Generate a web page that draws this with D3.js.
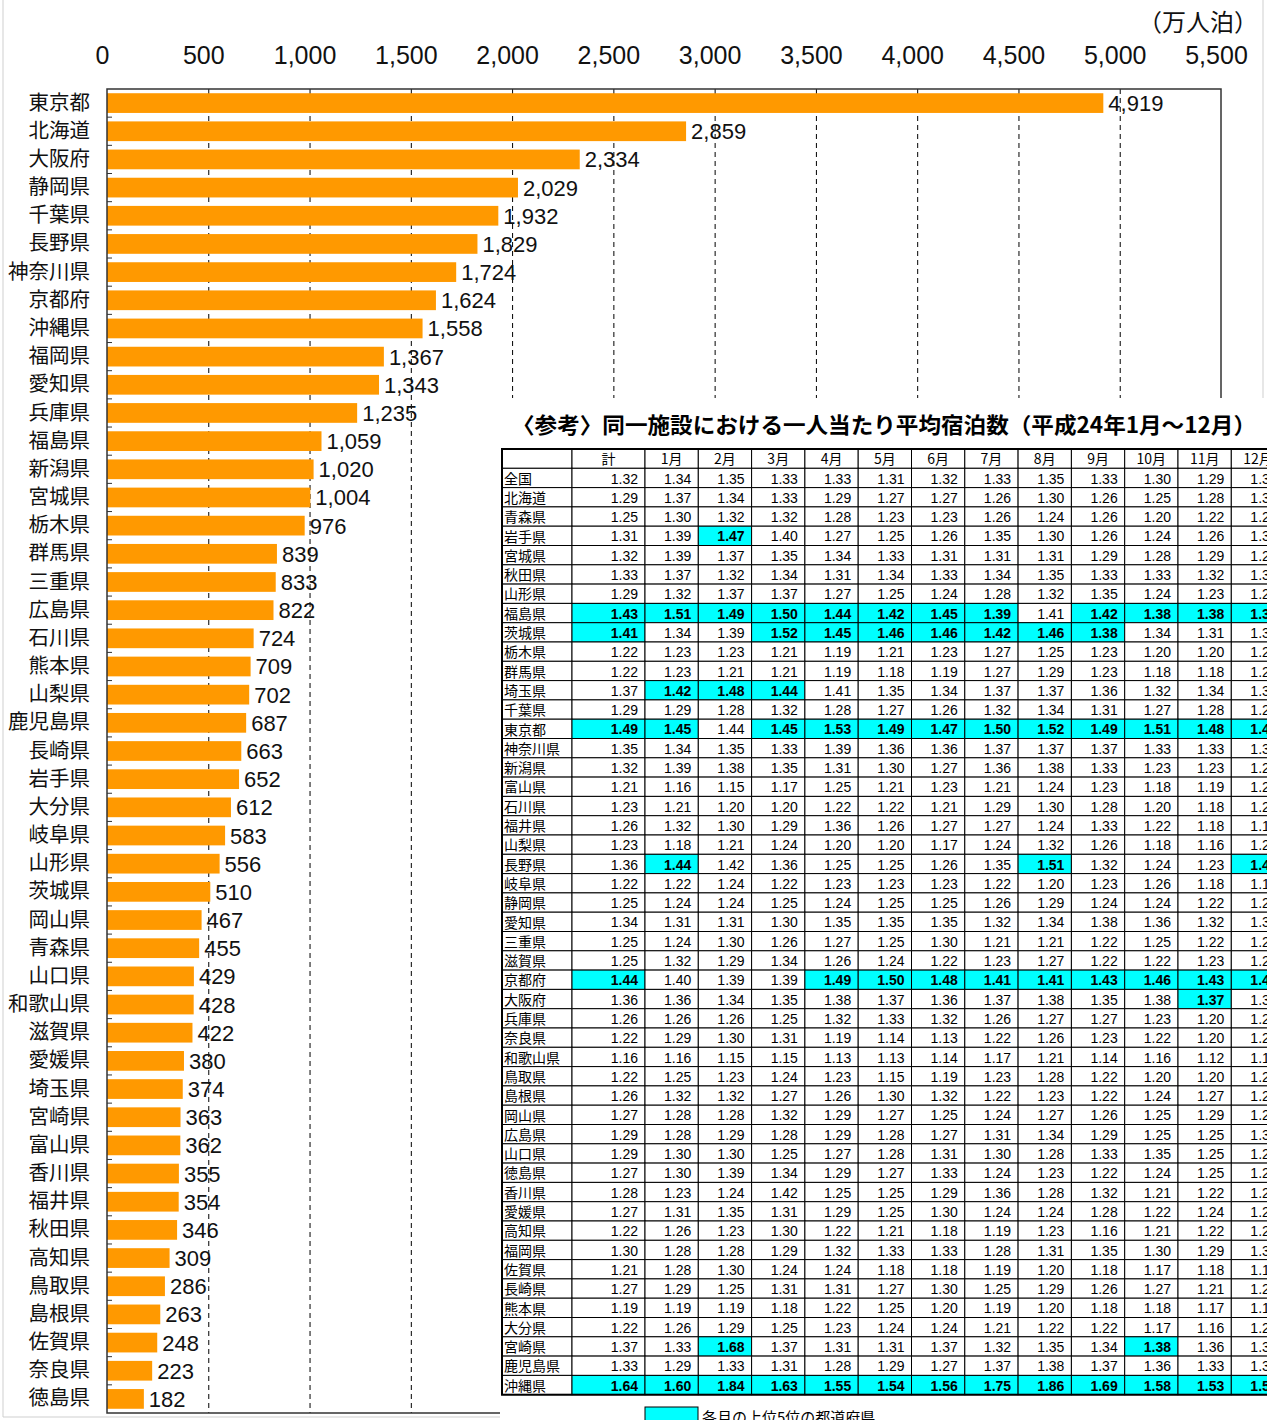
<!DOCTYPE html>
<html>
<head>
<meta charset="utf-8">
<script src="https://cdn.jsdelivr.net/npm/d3@7"></script>
<style>
  body { margin: 0; background: #fff; }
  svg { display: block; }
</style>
</head>
<body>
<div id="vis"></div>
<script>
// ---- bar chart data (延べ宿泊者数, 万人泊) ----
var prefs = ['東京都', '北海道', '大阪府', '静岡県', '千葉県', '長野県', '神奈川県', '京都府', '沖縄県', '福岡県',
  '愛知県', '兵庫県', '福島県', '新潟県', '宮城県', '栃木県', '群馬県', '三重県', '広島県', '石川県',
  '熊本県', '山梨県', '鹿児島県', '長崎県', '岩手県', '大分県', '岐阜県', '山形県', '茨城県', '岡山県',
  '青森県', '山口県', '和歌山県', '滋賀県', '愛媛県', '埼玉県', '宮崎県', '富山県', '香川県', '福井県',
  '秋田県', '高知県', '鳥取県', '島根県', '佐賀県', '奈良県', '徳島県'];
var stays = [4919, 2859, 2334, 2029, 1932, 1829, 1724, 1624, 1558, 1367,
  1343, 1235, 1059, 1020, 1004, 976, 839, 833, 822, 724,
  709, 702, 687, 663, 652, 612, 583, 556, 510, 467,
  455, 429, 428, 422, 380, 374, 363, 362, 355, 354,
  346, 309, 286, 263, 248, 223, 182];
var xTicks = [0, 500, 1000, 1500, 2000, 2500, 3000, 3500, 4000, 4500, 5000, 5500];
var unitLabel = '（万人泊）';

// ---- reference table data (一人当たり平均宿泊数) ----
var tableTitle = '〈参考〉同一施設における一人当たり平均宿泊数（平成24年1月～12月）';
var tableCols = ['計', '1月', '2月', '3月', '4月', '5月', '6月', '7月', '8月', '9月', '10月', '11月', '12月'];
var tableRows = ['全国', '北海道', '青森県', '岩手県', '宮城県', '秋田県', '山形県', '福島県', '茨城県', '栃木県',
  '群馬県', '埼玉県', '千葉県', '東京都', '神奈川県', '新潟県', '富山県', '石川県', '福井県', '山梨県',
  '長野県', '岐阜県', '静岡県', '愛知県', '三重県', '滋賀県', '京都府', '大阪府', '兵庫県', '奈良県',
  '和歌山県', '鳥取県', '島根県', '岡山県', '広島県', '山口県', '徳島県', '香川県', '愛媛県', '高知県',
  '福岡県', '佐賀県', '長崎県', '熊本県', '大分県', '宮崎県', '鹿児島県', '沖縄県'];
var tableValues = [
  [1.32, 1.34, 1.35, 1.33, 1.33, 1.31, 1.32, 1.33, 1.35, 1.33, 1.30, 1.29, 1.31],
  [1.29, 1.37, 1.34, 1.33, 1.29, 1.27, 1.27, 1.26, 1.30, 1.26, 1.25, 1.28, 1.30],
  [1.25, 1.30, 1.32, 1.32, 1.28, 1.23, 1.23, 1.26, 1.24, 1.26, 1.20, 1.22, 1.25],
  [1.31, 1.39, 1.47, 1.40, 1.27, 1.25, 1.26, 1.35, 1.30, 1.26, 1.24, 1.26, 1.30],
  [1.32, 1.39, 1.37, 1.35, 1.34, 1.33, 1.31, 1.31, 1.31, 1.29, 1.28, 1.29, 1.28],
  [1.33, 1.37, 1.32, 1.34, 1.31, 1.34, 1.33, 1.34, 1.35, 1.33, 1.33, 1.32, 1.31],
  [1.29, 1.32, 1.37, 1.37, 1.27, 1.25, 1.24, 1.28, 1.32, 1.35, 1.24, 1.23, 1.27],
  [1.43, 1.51, 1.49, 1.50, 1.44, 1.42, 1.45, 1.39, 1.41, 1.42, 1.38, 1.38, 1.39],
  [1.41, 1.34, 1.39, 1.52, 1.45, 1.46, 1.46, 1.42, 1.46, 1.38, 1.34, 1.31, 1.33],
  [1.22, 1.23, 1.23, 1.21, 1.19, 1.21, 1.23, 1.27, 1.25, 1.23, 1.20, 1.20, 1.22],
  [1.22, 1.23, 1.21, 1.21, 1.19, 1.18, 1.19, 1.27, 1.29, 1.23, 1.18, 1.18, 1.21],
  [1.37, 1.42, 1.48, 1.44, 1.41, 1.35, 1.34, 1.37, 1.37, 1.36, 1.32, 1.34, 1.33],
  [1.29, 1.29, 1.28, 1.32, 1.28, 1.27, 1.26, 1.32, 1.34, 1.31, 1.27, 1.28, 1.29],
  [1.49, 1.45, 1.44, 1.45, 1.53, 1.49, 1.47, 1.50, 1.52, 1.49, 1.51, 1.48, 1.47],
  [1.35, 1.34, 1.35, 1.33, 1.39, 1.36, 1.36, 1.37, 1.37, 1.37, 1.33, 1.33, 1.33],
  [1.32, 1.39, 1.38, 1.35, 1.31, 1.30, 1.27, 1.36, 1.38, 1.33, 1.23, 1.23, 1.26],
  [1.21, 1.16, 1.15, 1.17, 1.25, 1.21, 1.23, 1.21, 1.24, 1.23, 1.18, 1.19, 1.22],
  [1.23, 1.21, 1.20, 1.20, 1.22, 1.22, 1.21, 1.29, 1.30, 1.28, 1.20, 1.18, 1.23],
  [1.26, 1.32, 1.30, 1.29, 1.36, 1.26, 1.27, 1.27, 1.24, 1.33, 1.22, 1.18, 1.18],
  [1.23, 1.18, 1.21, 1.24, 1.20, 1.20, 1.17, 1.24, 1.32, 1.26, 1.18, 1.16, 1.23],
  [1.36, 1.44, 1.42, 1.36, 1.25, 1.25, 1.26, 1.35, 1.51, 1.32, 1.24, 1.23, 1.43],
  [1.22, 1.22, 1.24, 1.22, 1.23, 1.23, 1.23, 1.22, 1.20, 1.23, 1.26, 1.18, 1.19],
  [1.25, 1.24, 1.24, 1.25, 1.24, 1.25, 1.25, 1.26, 1.29, 1.24, 1.24, 1.22, 1.25],
  [1.34, 1.31, 1.31, 1.30, 1.35, 1.35, 1.35, 1.32, 1.34, 1.38, 1.36, 1.32, 1.33],
  [1.25, 1.24, 1.30, 1.26, 1.27, 1.25, 1.30, 1.21, 1.21, 1.22, 1.25, 1.22, 1.24],
  [1.25, 1.32, 1.29, 1.34, 1.26, 1.24, 1.22, 1.23, 1.27, 1.22, 1.22, 1.23, 1.24],
  [1.44, 1.40, 1.39, 1.39, 1.49, 1.50, 1.48, 1.41, 1.41, 1.43, 1.46, 1.43, 1.45],
  [1.36, 1.36, 1.34, 1.35, 1.38, 1.37, 1.36, 1.37, 1.38, 1.35, 1.38, 1.37, 1.36],
  [1.26, 1.26, 1.26, 1.25, 1.32, 1.33, 1.32, 1.26, 1.27, 1.27, 1.23, 1.20, 1.26],
  [1.22, 1.29, 1.30, 1.31, 1.19, 1.14, 1.13, 1.22, 1.26, 1.23, 1.22, 1.20, 1.21],
  [1.16, 1.16, 1.15, 1.15, 1.13, 1.13, 1.14, 1.17, 1.21, 1.14, 1.16, 1.12, 1.16],
  [1.22, 1.25, 1.23, 1.24, 1.23, 1.15, 1.19, 1.23, 1.28, 1.22, 1.20, 1.20, 1.22],
  [1.26, 1.32, 1.32, 1.27, 1.26, 1.30, 1.32, 1.22, 1.23, 1.22, 1.24, 1.27, 1.25],
  [1.27, 1.28, 1.28, 1.32, 1.29, 1.27, 1.25, 1.24, 1.27, 1.26, 1.25, 1.29, 1.27],
  [1.29, 1.28, 1.29, 1.28, 1.29, 1.28, 1.27, 1.31, 1.34, 1.29, 1.25, 1.25, 1.30],
  [1.29, 1.30, 1.30, 1.25, 1.27, 1.28, 1.31, 1.30, 1.28, 1.33, 1.35, 1.25, 1.27],
  [1.27, 1.30, 1.39, 1.34, 1.29, 1.27, 1.33, 1.24, 1.23, 1.22, 1.24, 1.25, 1.26],
  [1.28, 1.23, 1.24, 1.42, 1.25, 1.25, 1.29, 1.36, 1.28, 1.32, 1.21, 1.22, 1.25],
  [1.27, 1.31, 1.35, 1.31, 1.29, 1.25, 1.30, 1.24, 1.24, 1.28, 1.22, 1.24, 1.26],
  [1.22, 1.26, 1.23, 1.30, 1.22, 1.21, 1.18, 1.19, 1.23, 1.16, 1.21, 1.22, 1.23],
  [1.30, 1.28, 1.28, 1.29, 1.32, 1.33, 1.33, 1.28, 1.31, 1.35, 1.30, 1.29, 1.31],
  [1.21, 1.28, 1.30, 1.24, 1.24, 1.18, 1.18, 1.19, 1.20, 1.18, 1.17, 1.18, 1.18],
  [1.27, 1.29, 1.25, 1.31, 1.31, 1.27, 1.30, 1.25, 1.29, 1.26, 1.27, 1.21, 1.26],
  [1.19, 1.19, 1.19, 1.18, 1.22, 1.25, 1.20, 1.19, 1.20, 1.18, 1.18, 1.17, 1.19],
  [1.22, 1.26, 1.29, 1.25, 1.23, 1.24, 1.24, 1.21, 1.22, 1.22, 1.17, 1.16, 1.23],
  [1.37, 1.33, 1.68, 1.37, 1.31, 1.31, 1.37, 1.32, 1.35, 1.34, 1.38, 1.36, 1.34],
  [1.33, 1.29, 1.33, 1.31, 1.28, 1.29, 1.27, 1.37, 1.38, 1.37, 1.36, 1.33, 1.32],
  [1.64, 1.60, 1.84, 1.63, 1.55, 1.54, 1.56, 1.75, 1.86, 1.69, 1.58, 1.53, 1.57]
];
// prefectures marked as top 5 in each column (same order as tableCols)
var topFive = [
  ['福島県', '茨城県', '東京都', '京都府', '沖縄県'],
  ['福島県', '埼玉県', '東京都', '長野県', '沖縄県'],
  ['岩手県', '福島県', '埼玉県', '宮崎県', '沖縄県'],
  ['福島県', '茨城県', '埼玉県', '東京都', '沖縄県'],
  ['福島県', '茨城県', '東京都', '京都府', '沖縄県'],
  ['福島県', '茨城県', '東京都', '京都府', '沖縄県'],
  ['福島県', '茨城県', '東京都', '京都府', '沖縄県'],
  ['福島県', '茨城県', '東京都', '京都府', '沖縄県'],
  ['茨城県', '東京都', '長野県', '京都府', '沖縄県'],
  ['福島県', '茨城県', '東京都', '京都府', '沖縄県'],
  ['福島県', '東京都', '京都府', '宮崎県', '沖縄県'],
  ['福島県', '東京都', '京都府', '大阪府', '沖縄県'],
  ['福島県', '東京都', '長野県', '京都府', '沖縄県']
];
var legendLabel = '各月の上位5位の都道府県';

// ---- layout ----
var width = 1267;
var height = 1420;
var margin = { top: 89, left: 107, right: 46, bottom: 7 };
var jpFont = '"Noto Sans CJK JP", sans-serif';
var numFont = '"Liberation Sans", Arial, sans-serif';
var barColor = '#ff9900';
var hiColor = '#00ffff';

var svg = d3.select('#vis').append('svg')
  .attr('width', width)
  .attr('height', height);

var x = d3.scaleLinear()
  .domain([0, 5500])
  .range([margin.left, width - margin.right]);

var y = d3.scaleBand()
  .domain(prefs)
  .range([margin.top, height - margin.bottom])
  .paddingInner(0.3)
  .paddingOuter(0.15);

// outer light frame
svg.append('path')
  .attr('d', 'M3,0V1417H500M1263,0V398')
  .attr('fill', 'none')
  .attr('stroke', '#cfcfcf');

// dashed grid lines
svg.append('g')
  .attr('transform', 'translate(0,' + margin.top + ')')
  .call(d3.axisBottom(x).tickValues(xTicks.slice(1, -1))
    .tickSize(height - margin.bottom - margin.top).tickFormat(''))
  .call(function (g) { g.select('.domain').remove(); })
  .selectAll('line')
  .attr('stroke', '#000')
  .attr('stroke-dasharray', '5,4');

// bars
svg.append('g').selectAll('rect')
  .data(prefs)
  .enter().append('rect')
  .attr('x', x(0))
  .attr('y', function (d) { return y(d); })
  .attr('width', function (d, i) { return x(stays[i]) - x(0); })
  .attr('height', y.bandwidth())
  .attr('fill', barColor);

// value labels
svg.append('g').selectAll('text')
  .data(prefs)
  .enter().append('text')
  .attr('x', function (d, i) { return x(stays[i]) + 5; })
  .attr('y', function (d) { return y(d) + y.bandwidth() / 2 + 8; })
  .attr('font-family', numFont)
  .attr('font-size', 22)
  .attr('fill', '#111')
  .text(function (d, i) { return d3.format(',')(stays[i]); });

// plot frame
svg.append('rect')
  .attr('x', x(0))
  .attr('y', margin.top)
  .attr('width', x(5500) - x(0))
  .attr('height', height - margin.bottom - margin.top)
  .attr('fill', 'none')
  .attr('stroke', '#333')
  .attr('stroke-width', 1.5);

// top tick labels
svg.append('g')
  .attr('transform', 'translate(0,' + margin.top + ')')
  .call(d3.axisTop(x).tickValues(xTicks).tickSize(0).tickPadding(25).tickFormat(d3.format(',')))
  .call(function (g) { g.select('.domain').remove(); })
  .selectAll('text')
  .attr('dx', -5)
  .attr('font-family', numFont)
  .attr('font-size', 25)
  .attr('fill', '#111');

svg.append('text')
  .attr('x', 1258)
  .attr('y', 31)
  .attr('text-anchor', 'end')
  .attr('font-family', jpFont)
  .attr('font-size', 24)
  .attr('fill', '#111')
  .text(unitLabel);

// category labels
svg.append('g')
  .attr('transform', 'translate(' + x(0) + ',0)')
  .call(d3.axisLeft(y).tickSize(0).tickPadding(17))
  .call(function (g) { g.select('.domain').remove(); })
  .selectAll('text')
  .attr('font-family', jpFont)
  .attr('font-size', 20.5)
  .attr('fill', '#111');

// small ticks between categories
svg.append('g').selectAll('line')
  .data(prefs.slice(1))
  .enter().append('line')
  .attr('x1', x(0))
  .attr('x2', x(0) + 5)
  .attr('y1', function (d) { return y(d) - y.step() * y.paddingInner() / 2; })
  .attr('y2', function (d) { return y(d) - y.step() * y.paddingInner() / 2; })
  .attr('stroke', '#333');

// ---- reference table (covers lower right of chart) ----
svg.append('rect')
  .attr('x', 500)
  .attr('y', 398)
  .attr('width', width - 500)
  .attr('height', height - 398)
  .attr('fill', '#fff');

svg.append('text')
  .attr('x', 512)
  .attr('y', 433)
  .attr('font-family', jpFont)
  .attr('font-weight', 'bold')
  .attr('font-size', 22)
  .attr('textLength', 744)
  .attr('lengthAdjust', 'spacingAndGlyphs')
  .attr('fill', '#000')
  .text(tableTitle);

var tLeft = 502;
var tTop = 449;
var headH = 19.3;
var rowH = 19.3;
var colEdges = [tLeft, 572, 645];
tableCols.slice(1).forEach(function (c, i) { colEdges.push(645 + (i + 1) * 53.3); });

var table = svg.append('g');

// header
table.append('rect')
  .attr('x', tLeft).attr('y', tTop)
  .attr('width', colEdges[1] - tLeft).attr('height', headH)
  .attr('fill', '#fff').attr('stroke', '#000');
tableCols.forEach(function (c, j) {
  table.append('rect')
    .attr('x', colEdges[j + 1]).attr('y', tTop)
    .attr('width', colEdges[j + 2] - colEdges[j + 1]).attr('height', headH)
    .attr('fill', '#fff').attr('stroke', '#000');
  table.append('text')
    .attr('x', (colEdges[j + 1] + colEdges[j + 2]) / 2)
    .attr('y', tTop + headH - 4)
    .attr('text-anchor', 'middle')
    .attr('font-family', jpFont)
    .attr('font-size', 14)
    .text(c);
});

// body rows
var rows = table.selectAll('g.row')
  .data(tableRows)
  .enter().append('g')
  .attr('class', 'row')
  .attr('transform', function (d, i) { return 'translate(0,' + (tTop + headH + i * rowH) + ')'; });

rows.append('rect')
  .attr('x', tLeft).attr('width', colEdges[1] - tLeft)
  .attr('height', rowH)
  .attr('fill', '#fff').attr('stroke', '#000');

rows.append('text')
  .attr('x', tLeft + 2)
  .attr('y', rowH - 4)
  .attr('font-family', jpFont)
  .attr('font-size', 14)
  .text(function (d) { return d; });

rows.each(function (name, i) {
  var g = d3.select(this);
  tableValues[i].forEach(function (v, j) {
    var hi = topFive[j].indexOf(name) >= 0;
    g.append('rect')
      .attr('x', colEdges[j + 1])
      .attr('width', colEdges[j + 2] - colEdges[j + 1])
      .attr('height', rowH)
      .attr('fill', hi ? hiColor : '#fff')
      .attr('stroke', '#000');
    g.append('text')
      .attr('x', colEdges[j + 2] - 7)
      .attr('y', rowH - 4)
      .attr('text-anchor', 'end')
      .attr('font-family', numFont)
      .attr('font-size', 14)
      .attr('font-weight', hi ? 'bold' : 'normal')
      .text(d3.format('.2f')(v));
  });
});

// outer border of table
table.append('rect')
  .attr('x', tLeft).attr('y', tTop)
  .attr('width', colEdges[colEdges.length - 1] - tLeft)
  .attr('height', headH + tableRows.length * rowH)
  .attr('fill', 'none')
  .attr('stroke', '#000')
  .attr('stroke-width', 2);

// legend
svg.append('rect')
  .attr('x', 645).attr('y', 1407)
  .attr('width', 53).attr('height', 20)
  .attr('fill', hiColor).attr('stroke', '#000');
svg.append('text')
  .attr('x', 702)
  .attr('y', 1423)
  .attr('font-family', jpFont)
  .attr('font-size', 15)
  .text(legendLabel);
</script>
</body>
</html>
